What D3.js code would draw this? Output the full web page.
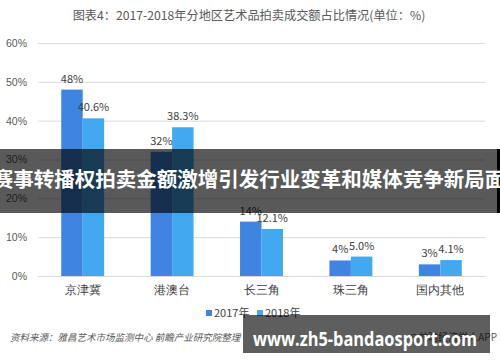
<!DOCTYPE html>
<html><head><meta charset="utf-8">
<script src="https://cdn.jsdelivr.net/npm/d3@7"></script>
<style>body{margin:0;background:#fff}svg{display:block;font-family:"Noto Sans CJK SC","Noto Sans",sans-serif}</style>
</head><body><svg id="c" width="500" height="362"></svg>
<script>
const categories = ["京津冀","港澳台","长三角","珠三角","国内其他"];
const series2017 = [48, 32, 14, 4, 3];
const series2018 = [40.6, 38.3, 12.1, 5.0, 4.1];
const labels2017 = ["48%","32%","14%","4%","3%"];
const labels2018 = ["40.6%","38.3%","12.1%","5.0%","4.1%"];
const seriesNames = ["2017年","2018年"];
const yTicks = [0,10,20,30,40,50,60];
const colors = ["#3f84e0","#42a8f0"];

const svg = d3.select("#c");
const x0 = d3.scaleBand().domain(categories).range([38,485]).paddingInner(0.52).paddingOuter(0.26);
const x1 = d3.scaleBand().domain(seriesNames).range([0,x0.bandwidth()]);
const y = d3.scaleLinear().domain([0,60]).range([276,43]);

svg.append("text").attr("x",249).attr("y",20).attr("text-anchor","middle")
  .attr("font-size",12.2).attr("fill","#595959").text("图表4：2017-2018年分地区艺术品拍卖成交额占比情况(单位：%)");

const yAxis = d3.axisLeft(y).tickValues(yTicks).tickSize(-(485-38)).tickFormat(d=>d+"%");
const ga = svg.append("g").attr("transform","translate(38,0)").call(yAxis);
ga.select(".domain").remove();
ga.selectAll(".tick line").attr("stroke","#d9d9d9");
ga.selectAll(".tick text").attr("x",-11).attr("font-size",10.5).attr("fill","#595959");

const data = categories.map((c,i)=>({c, vals:[
  {k:seriesNames[0], v:series2017[i], l:labels2017[i]},
  {k:seriesNames[1], v:series2018[i], l:labels2018[i]}]}));
const g = svg.append("g").selectAll("g").data(data).join("g").attr("transform",d=>`translate(${x0(d.c)},0)`);
g.selectAll("rect").data(d=>d.vals).join("rect")
  .attr("x",d=>x1(d.k)).attr("width",x1.bandwidth())
  .attr("y",d=>y(d.v)).attr("height",d=>y(0)-y(d.v))
  .attr("fill",(d,i)=>colors[i]);
g.selectAll("text.lab").data(d=>d.vals).join("text").attr("class","lab")
  .attr("x",d=>x1(d.k)+x1.bandwidth()/2).attr("y",d=>y(d.v)-7)
  .attr("text-anchor","middle").attr("font-size",11).attr("fill","#404040").text(d=>d.l);

const xa = svg.append("g").attr("transform","translate(0,276)").call(d3.axisBottom(x0).tickSize(0));
xa.select(".domain").attr("stroke","#d9d9d9");
xa.selectAll(".tick text").attr("dy",0).attr("y",18).attr("font-size",12).attr("fill","#404040");

// legend
const lg = svg.append("g");
const lx = [206,257];
seriesNames.forEach((n,i)=>{
  lg.append("rect").attr("x",lx[i]).attr("y",310).attr("width",6).attr("height",6).attr("fill",colors[i]);
  lg.append("text").attr("x",lx[i]+8).attr("y",317).attr("font-size",11).attr("fill","#404040").text(n);
});

svg.append("text").attr("x",10).attr("y",341).attr("font-size",9.5).attr("font-style","italic")
  .attr("fill","#595959").text("资料来源：雅昌艺术市场监测中心 前瞻产业研究院整理");
svg.append("text").attr("x",497).attr("y",341).attr("text-anchor","end").attr("font-size",10)
  .attr("fill","#595959").text("@前瞻经济学人APP");

// overlays
svg.append("rect").attr("x",0).attr("y",149).attr("width",497).attr("height",64).attr("fill","rgba(0,0,0,0.65)");
svg.append("rect").attr("x",497).attr("y",149).attr("width",3).attr("height",64).attr("fill","#000");
svg.append("text").attr("x",249).attr("y",187).attr("text-anchor","middle").attr("font-size",20.5)
  .attr("font-weight","bold").attr("fill","#fff").text("赛事转播权拍卖金额激增引发行业变革和媒体竞争新局面");
svg.append("rect").attr("x",243).attr("y",315).attr("width",247).attr("height",38).attr("fill","rgba(0,0,0,0.63)");
svg.append("text").attr("x",253).attr("y",346).attr("textLength",224).attr("lengthAdjust","spacingAndGlyphs")
  .attr("font-size",19).attr("font-weight","bold").attr("fill","#fff")
  .attr("font-family","'Open Sans',sans-serif").text("www.zh5-bandaosport.com");
</script></body></html>
